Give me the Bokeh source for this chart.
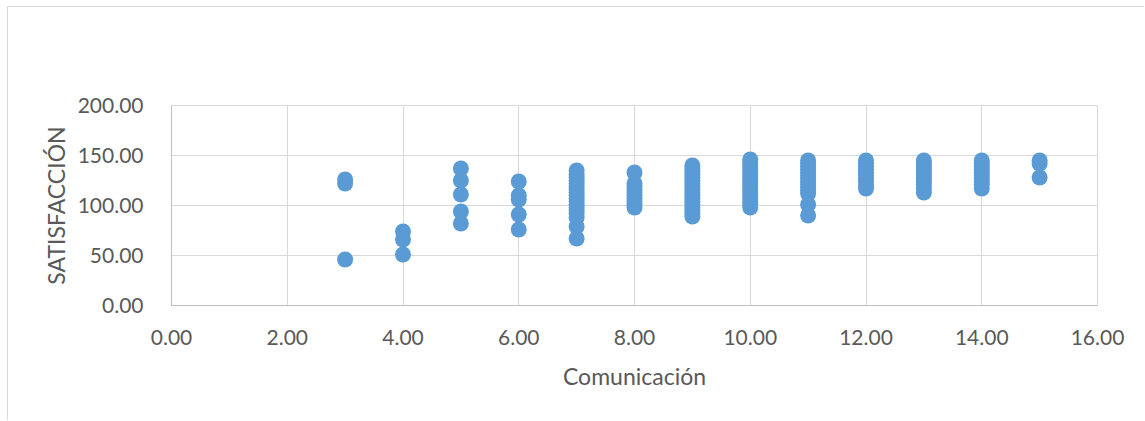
from bokeh.plotting import figure
from bokeh.models import Range1d, FixedTicker, NumeralTickFormatter, ColumnDataSource
from bokeh.embed import file_html
from bokeh.resources import INLINE

# Satisfaction scores grouped by communication score
comunicacion_3 = [126, 122, 46]
comunicacion_4 = [74, 66, 51]
comunicacion_5 = [137, 125, 111, 94, 82]
comunicacion_6 = [124, 110, 106, 91, 76]
comunicacion_7 = [135, 131, 128, 125, 122, 119, 116, 113, 110, 107, 104, 101, 98, 95, 92, 88, 79, 67]
comunicacion_8 = [133, 122, 119, 116, 113, 110, 107, 104, 101, 98]
comunicacion_9 = [140, 137, 134, 131, 128, 125, 122, 119, 116, 113, 110, 107, 104, 101, 98, 95, 92, 89]
comunicacion_10 = [146, 143, 140, 137, 134, 131, 128, 125, 122, 119, 116, 113, 110, 107, 104, 101, 98]
comunicacion_11 = [145, 142, 139, 136, 133, 130, 127, 124, 121, 118, 115, 112, 101, 90]
comunicacion_12 = [145, 142, 139, 136, 133, 130, 127, 124, 120, 117]
comunicacion_13 = [145, 142, 139, 136, 133, 130, 127, 124, 121, 117, 113]
comunicacion_14 = [145, 142, 139, 136, 133, 130, 127, 124, 121, 117]
comunicacion_15 = [145, 142, 128]

groups = {
    3: comunicacion_3, 4: comunicacion_4, 5: comunicacion_5, 6: comunicacion_6,
    7: comunicacion_7, 8: comunicacion_8, 9: comunicacion_9, 10: comunicacion_10,
    11: comunicacion_11, 12: comunicacion_12, 13: comunicacion_13,
    14: comunicacion_14, 15: comunicacion_15,
}

x_ticks = [0, 2, 4, 6, 8, 10, 12, 14, 16]
y_ticks = [0, 50, 100, 150, 200]

xs, ys = [], []
for k, vals in groups.items():
    xs.extend([k] * len(vals))
    ys.extend(vals)
source = ColumnDataSource(data=dict(x=xs, y=ys))

FONT = "Lato"
TEXT = "#595959"
GRID = "#d9d9d9"

p = figure(
    width=1137, height=414,
    x_range=Range1d(0, 16), y_range=Range1d(0, 200),
    output_backend="svg", toolbar_location=None,
    min_border_left=163, min_border_right=48,
    min_border_top=98, min_border_bottom=116,
)
p.margin = (6, 0, 0, 7)
p.styles = {"border-top": "1px solid #d9d9d9", "border-left": "1px solid #d9d9d9"}

p.scatter("x", "y", source=source, size=16, fill_color="#5b9bd5", line_color=None)

p.xaxis.ticker = FixedTicker(ticks=x_ticks)
p.yaxis.ticker = FixedTicker(ticks=y_ticks)
for ax in (p.xaxis, p.yaxis):
    ax.formatter = NumeralTickFormatter(format="0.00")
    ax.major_tick_line_color = None
    ax.minor_tick_line_color = None
    ax.axis_line_color = "#bfbfbf"
    ax.axis_line_width = 1
    ax.major_label_text_font = FONT
    ax.major_label_text_font_size = "21px"
    ax.major_label_text_color = TEXT
    ax.axis_label_text_font = FONT
    ax.axis_label_text_font_size = "23px"
    ax.axis_label_text_font_style = "normal"
    ax.axis_label_text_color = TEXT

p.xaxis.axis_label = "Comunicación"
p.yaxis.axis_label = "SATISFACCIÓN"
p.xaxis.major_label_standoff = 18
p.yaxis.major_label_standoff = 22
p.xaxis.axis_label_standoff = 14
p.yaxis.axis_label_standoff = 5

p.xgrid.ticker = FixedTicker(ticks=x_ticks)
p.ygrid.ticker = FixedTicker(ticks=y_ticks)
p.grid.grid_line_color = GRID
p.grid.grid_line_width = 1
p.outline_line_color = GRID
p.outline_line_width = 1
p.background_fill_color = "white"
p.border_fill_color = "white"

open("out.html", "w").write(file_html(p, INLINE))
